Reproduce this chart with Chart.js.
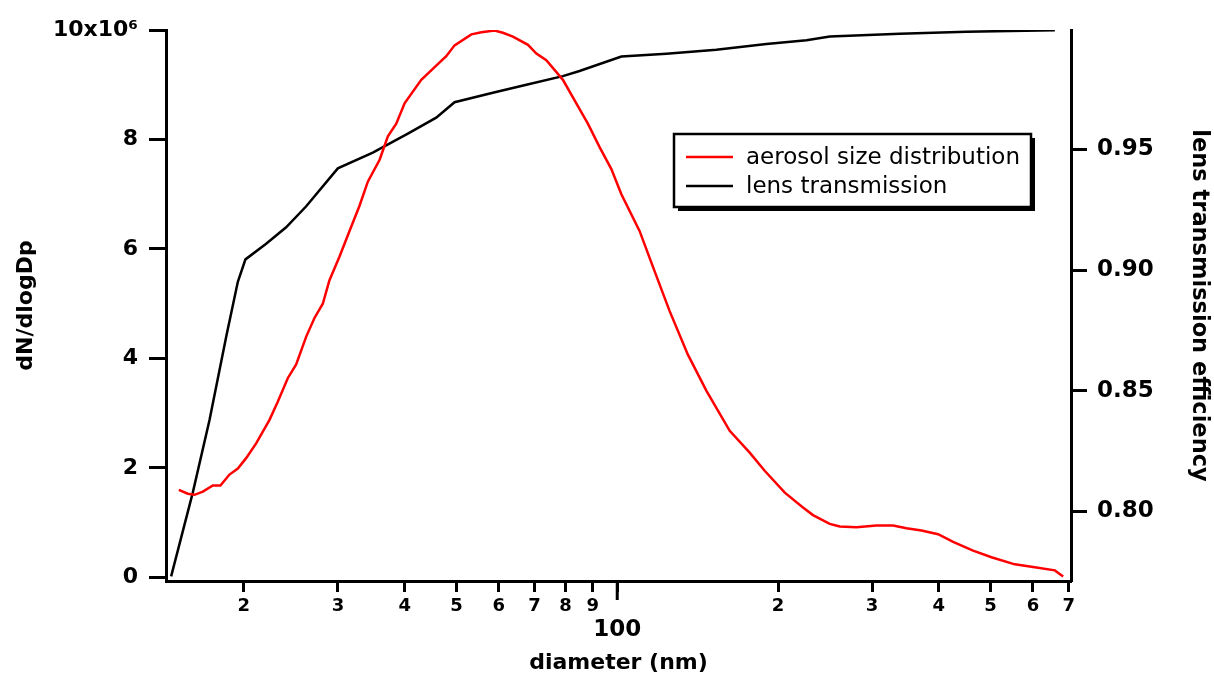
<!DOCTYPE html>
<html>
<head>
<meta charset="utf-8">
<script src="https://cdn.jsdelivr.net/npm/chart.js@4"></script>
<style>
  html, body { margin: 0; padding: 0; background: #fff; }
  #wrap { width: 1214px; height: 678px; position: relative; }
</style>
</head>
<body>
<div id="wrap"><canvas id="chart"></canvas></div>
<script>
// DATA

const distDiameters = [15.11, 15.71, 16.17, 16.76, 17.50, 18.08, 18.80, 19.49, 20.20, 21.09,
	22.34, 23.15, 24.17, 25.06, 26.17, 27.12, 28.11, 28.93, 30.20, 31.54,
	32.93, 34.13, 35.91, 37.21, 38.58, 39.99, 42.97, 45.83, 47.86, 49.6,
	53.33, 55.68, 58.93, 61.09, 63.78, 68.07, 70.57, 73.66, 79.13, 83.83,
	88.12, 92.68, 97.5, 101.8, 110.1, 116.7, 125.3, 135.6, 146.9, 162.4,
	177.0, 188.8, 205.9, 222.7, 232.5, 249.9, 261.0, 280.4, 305.7, 328.4,
	347.9, 371.1, 398.7, 425.4, 463.6, 501.8, 554.9, 600.4, 659.5, 683.5];
const distValues = [1.60e6, 1.53e6, 1.51e6, 1.57e6, 1.68e6, 1.68e6, 1.88e6, 1.99e6, 2.18e6, 2.45e6,
	2.88e6, 3.21e6, 3.64e6, 3.89e6, 4.40e6, 4.74e6, 5.00e6, 5.43e6, 5.86e6, 6.33e6,
	6.79e6, 7.23e6, 7.63e6, 8.06e6, 8.29e6, 8.66e6, 9.09e6, 9.35e6, 9.52e6, 9.72e6,
	9.92e6, 9.96e6, 9.99e6, 9.95e6, 9.88e6, 9.73e6, 9.57e6, 9.45e6, 9.09e6, 8.66e6,
	8.29e6, 7.86e6, 7.46e6, 7.00e6, 6.33e6, 5.67e6, 4.87e6, 4.07e6, 3.41e6, 2.68e6,
	2.28e6, 1.95e6, 1.55e6, 1.28e6, 1.14e6, 0.98e6, 0.93e6, 0.92e6, 0.95e6, 0.95e6,
	0.90e6, 0.86e6, 0.79e6, 0.65e6, 0.49e6, 0.37e6, 0.24e6, 0.19e6, 0.13e6, 0.02e6];

const lensDiameters = [14.62, 16.05, 17.25, 18.54, 19.49, 20.14, 22.02, 24.0, 26.17, 29.99,
	34.87, 40.56, 45.83, 49.6, 58.5, 67.6, 79.1, 85.0, 101.8, 123.6,
	153.3, 190.2, 226.1, 250, 338, 450.6, 659.5];
const lensValues = [0.7731, 0.8078, 0.8379, 0.8725, 0.8951, 0.9044, 0.9109, 0.9177, 0.9264, 0.9421,
	0.9486, 0.9565, 0.9631, 0.9695, 0.9734, 0.9767, 0.9803, 0.9824, 0.9884, 0.9896,
	0.9912, 0.9936, 0.9952, 0.9967, 0.9978, 0.9987, 0.9993];

const xTicks = [20, 30, 40, 50, 60, 70, 80, 90, 100, 200, 300, 400, 500, 600, 700];
const leftTicks = [0, 2e6, 4e6, 6e6, 8e6, 10e6];
const rightTicks = [0.80, 0.85, 0.90, 0.95];

const seriesLabels = ['aerosol size distribution', 'lens transmission'];

//==================================
// PLUGINS
//==================================

const FONT = 'DejaVu Sans';

// longer tick at the decade + boxed legend with drop shadow
const extrasPlugin = {
	id: 'extras',
	afterDraw(chart) {
		const ctx = chart.ctx;
		const x = chart.scales.x;
		ctx.save();
		ctx.strokeStyle = '#000';
		ctx.lineWidth = 3;
		const px = x.getPixelForValue(100);
		ctx.beginPath();
		ctx.moveTo(px, x.top);
		ctx.lineTo(px, x.top + 19);
		ctx.stroke();

		// legend
		const bx = 674, by = 134, bw = 357, bh = 73;
		ctx.fillStyle = '#000';
		ctx.fillRect(bx + 4, by + 4, bw, bh);
		ctx.fillStyle = '#fff';
		ctx.fillRect(bx, by, bw, bh);
		ctx.lineWidth = 2.5;
		ctx.strokeRect(bx, by, bw, bh);
		ctx.font = '23px "' + FONT + '"';
		ctx.textBaseline = 'middle';
		ctx.textAlign = 'left';
		chart.data.datasets.forEach((ds, i) => {
			const ly = 157 + i * 29;
			ctx.strokeStyle = ds.borderColor;
			ctx.lineWidth = 2.5;
			ctx.beginPath();
			ctx.moveTo(686, ly);
			ctx.lineTo(733, ly);
			ctx.stroke();
			ctx.fillStyle = '#000';
			ctx.fillText(ds.label, 746, ly + 1);
		});
		ctx.restore();
	}
};

//==================================
// CHART
//==================================

function axisCommon(tickLen) {
	return {
		border: { display: true, color: '#000', width: 3 },
		grid: { display: true, drawOnChartArea: false, drawTicks: true, tickLength: tickLen, tickWidth: 3, tickColor: '#000' },
	};
}

const ctx = document.getElementById('chart').getContext('2d');

new Chart(ctx, {
	type: 'line',
	data: {
		datasets: [{
			label: seriesLabels[0],
			data: distDiameters.map((d, i) => ({ x: d, y: distValues[i] })),
			borderColor: '#ff0000',
			borderWidth: 2.5,
			pointRadius: 0,
			tension: 0,
			yAxisID: 'y',
		}, {
			label: seriesLabels[1],
			data: lensDiameters.map((d, i) => ({ x: d, y: lensValues[i] })),
			borderColor: '#000000',
			borderWidth: 2.5,
			pointRadius: 0,
			tension: 0,
			yAxisID: 'y1',
		}],
	},
	options: {
		responsive: true,
		maintainAspectRatio: false,
		animation: false,
		layout: { padding: { top: 30, left: 0, right: 0, bottom: 0 } },
		plugins: {
			legend: { display: false },
			tooltip: { enabled: false },
		},
		scales: {
			x: {
				type: 'logarithmic',
				position: 'bottom',
				min: 14.3,
				max: 707,
				...axisCommon(11),
				afterBuildTicks: (scale) => { scale.ticks = xTicks.map(v => ({ value: v })); },
				afterFit: (scale) => { scale.height = 97; },
				ticks: {
					autoSkip: false,
					maxRotation: 0,
					minRotation: 0,
					padding: 5,
					color: '#000',
					font: (c) => (c.tick && c.tick.value === 100)
						? { family: FONT, weight: 'bold', size: 23, lineHeight: 0.95 }
						: { family: FONT, weight: 'bold', size: 18, lineHeight: 1.05 },
					callback: (v) => {
						if (v === 100) return ['', '100'];
						const m = v / Math.pow(10, Math.floor(Math.log10(v) + 1e-9));
						return String(Math.round(m));
					},
				},
				title: {
					display: true,
					text: 'diameter (nm)',
					color: '#000',
					font: { family: FONT, weight: 'bold', size: 22, lineHeight: 1 },
					padding: { top: 0, bottom: 4 },
				},
			},
			y: {
				type: 'linear',
				position: 'left',
				min: -64000,
				max: 10e6,
				...axisCommon(17),
				afterBuildTicks: (scale) => { scale.ticks = leftTicks.map(v => ({ value: v })); },
				afterFit: (scale) => { scale.width = 166; },
				ticks: {
					padding: 11,
					color: '#000',
					font: { family: FONT, weight: 'bold', size: 22 },
					callback: (v) => v === 10e6 ? '10x10\u2076' : String(Math.round(v / 1e6)),
				},
				title: {
					display: true,
					text: 'dN/dlogDp',
					color: '#000',
					font: { family: FONT, weight: 'bold', size: 22, lineHeight: 1 },
					padding: { top: 15, bottom: 0 },
				},
			},
			y1: {
				type: 'linear',
				position: 'right',
				min: 0.7712,
				max: 0.9994,
				...axisCommon(16),
				afterBuildTicks: (scale) => { scale.ticks = rightTicks.map(v => ({ value: v })); },
				afterFit: (scale) => { scale.width = 143; },
				ticks: {
					padding: 10,
					color: '#000',
					font: { family: FONT, weight: 'bold', size: 23 },
					callback: (v) => v.toFixed(2),
				},
				title: {
					display: true,
					text: 'lens transmission efficiency',
					color: '#000',
					font: { family: FONT, weight: 'bold', size: 22.5, lineHeight: 1 },
					padding: { top: 4, bottom: 0 },
				},
			},
		},
	},
	plugins: [extrasPlugin],
});
</script>
</body>
</html>
